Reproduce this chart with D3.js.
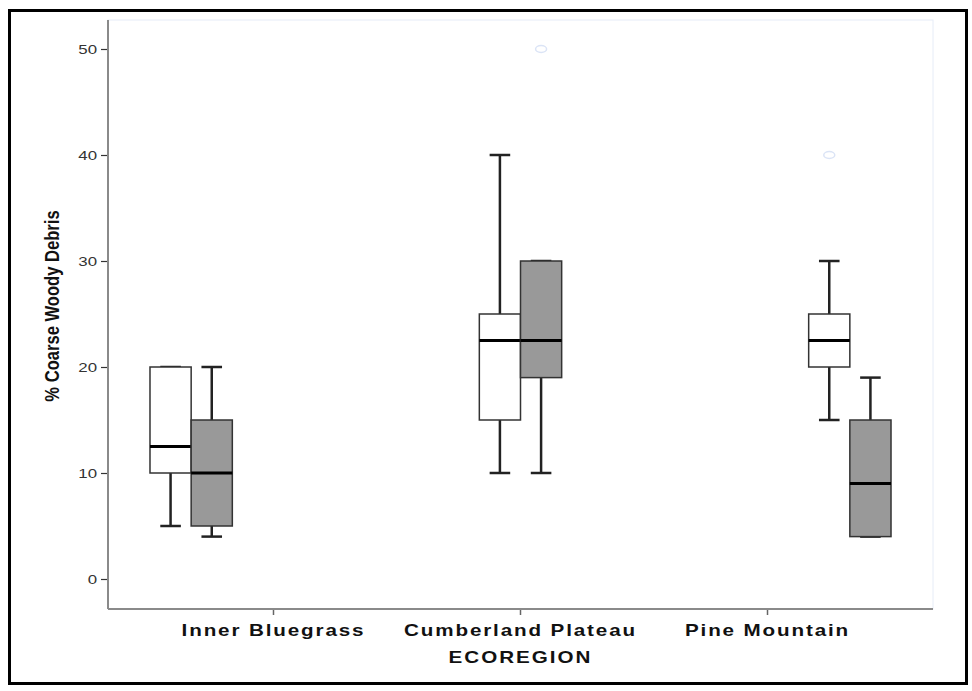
<!DOCTYPE html>
<html>
<head>
<meta charset="utf-8">
<script src="https://cdn.jsdelivr.net/npm/d3@7"></script>
<style>
  body { margin: 0; background: #fff; }
  text { font-family: "Liberation Sans", Arial, sans-serif; }
</style>
</head>
<body>
<div id="wrapper"></div>
<script>
// data
const regions = ["Inner Bluegrass", "Cumberland Plateau", "Pine Mountain"]
const slots = ["s1", "s2", "s3", "s4", "s5", "s6"]
const yTicks = [0, 10, 20, 30, 40, 50]

const boxRegion = ["Inner Bluegrass", "Inner Bluegrass", "Cumberland Plateau", "Cumberland Plateau", "Pine Mountain", "Pine Mountain"]
const boxSlot   = ["s1", "s2", "s3", "s4", "s5", "s6"]
const boxShade  = ["white", "gray", "white", "gray", "white", "gray"]
const whiskerLo = [5, 4, 10, 10, 15, 4]
const q1Values  = [10, 5, 15, 19, 20, 4]
const medians   = [12.5, 10, 22.5, 22.5, 22.5, 9]
const q3Values  = [20, 15, 25, 30, 25, 15]
const whiskerHi = [20, 20, 40, 30, 30, 19]
const outliers  = [[], [], [], [50], [40], []]

const boxes = boxRegion.map((r, i) => ({
  region: r, slot: boxSlot[i], shade: boxShade[i],
  lo: whiskerLo[i], q1: q1Values[i], med: medians[i],
  q3: q3Values[i], hi: whiskerHi[i], out: outliers[i]
}))

// dimensions
const dimensions = {
  width: 972,
  height: 691,
  margin: { top: 20, right: 39, bottom: 82, left: 108 }
}
dimensions.boundedWidth = dimensions.width - dimensions.margin.left - dimensions.margin.right
dimensions.boundedHeight = dimensions.height - dimensions.margin.top - dimensions.margin.bottom

const svg = d3.select("#wrapper").append("svg")
  .attr("width", dimensions.width)
  .attr("height", dimensions.height)

// outer frame
svg.append("rect")
  .attr("x", 9.5).attr("y", 10.5)
  .attr("width", 957).attr("height", 673)
  .attr("fill", "none")
  .attr("stroke", "#000")
  .attr("stroke-width", 3)

const bounds = svg.append("g")
  .attr("transform", `translate(${dimensions.margin.left},${dimensions.margin.top})`)

// scales
const yScale = d3.scaleLinear()
  .domain([0, 50])
  .range([559, 29])

const xScale = d3.scaleBand()
  .domain(regions)
  .range([0, dimensions.boundedWidth])
  .paddingInner(0)
  .paddingOuter(0.17)

const subScale = d3.scaleBand()
  .domain(slots)
  .range([0, xScale.bandwidth()])

// plot frame (light)
bounds.append("rect")
  .attr("x", 0).attr("y", 0)
  .attr("width", dimensions.boundedWidth)
  .attr("height", dimensions.boundedHeight)
  .attr("fill", "none")
  .attr("stroke", "#e6ecf7")
  .attr("stroke-width", 1)

// axes
const yAxisGenerator = d3.axisLeft(yScale)
  .tickValues(yTicks)
  .tickSize(7)
  .tickPadding(4)
const yAxis = bounds.append("g").call(yAxisGenerator)
yAxis.select(".domain").remove()
yAxis.selectAll(".tick line").attr("stroke", "#333").attr("stroke-width", 1.2)
yAxis.selectAll(".tick text")
  .attr("fill", "#333")
  .attr("transform", "translate(-11,0) scale(1.35,1) translate(11,0)")
  .style("font-size", "12.5px")

bounds.append("line")
  .attr("x1", 0).attr("x2", 0)
  .attr("y1", 0).attr("y2", dimensions.boundedHeight)
  .attr("stroke", "#8a8a8a").attr("stroke-width", 2)

const xAxisGenerator = d3.axisBottom(xScale)
  .tickSize(6)
  .tickPadding(9)
const xAxis = bounds.append("g")
  .attr("transform", `translate(0,${dimensions.boundedHeight})`)
  .call(xAxisGenerator)
xAxis.select(".domain").remove()
xAxis.selectAll(".tick line").attr("stroke", "#666").attr("stroke-width", 1.5)
xAxis.selectAll(".tick text")
  .attr("fill", "#111")
  .attr("transform", "scale(1.25,1)")
  .style("font-size", "16.5px")
  .style("font-weight", "bold")
  .style("letter-spacing", "1.5px")

bounds.append("line")
  .attr("x1", 0).attr("x2", dimensions.boundedWidth)
  .attr("y1", dimensions.boundedHeight).attr("y2", dimensions.boundedHeight)
  .attr("stroke", "#8a8a8a").attr("stroke-width", 2)

// axis titles
svg.append("text")
  .attr("transform", `translate(59,306) rotate(-90) scale(0.79,1)`)
  .attr("text-anchor", "middle")
  .style("font-size", "21px")
  .style("font-weight", "bold")
  .attr("fill", "#111")
  .text("% Coarse Woody Debris")

svg.append("text")
  .attr("transform", `translate(${dimensions.margin.left + xScale("Cumberland Plateau") + xScale.bandwidth() / 2},663) scale(1.25,1)`)
  .attr("text-anchor", "middle")
  .style("font-size", "16.5px")
  .style("font-weight", "bold")
  .style("letter-spacing", "1.6px")
  .attr("fill", "#111")
  .text("ECOREGION")

// boxes
const boxWidth = subScale.bandwidth()
const groups = bounds.selectAll(".box")
  .data(boxes)
  .enter().append("g")
    .attr("class", "box")
    .attr("transform", d => `translate(${xScale(d.region) + subScale(d.slot)},0)`)

groups.append("line")
  .attr("x1", boxWidth / 2).attr("x2", boxWidth / 2)
  .attr("y1", d => yScale(d.hi)).attr("y2", d => yScale(d.lo))
  .attr("stroke", "#222").attr("stroke-width", 2.5)

groups.append("line")
  .attr("x1", boxWidth / 4).attr("x2", boxWidth * 3 / 4)
  .attr("y1", d => yScale(d.hi)).attr("y2", d => yScale(d.hi))
  .attr("stroke", "#222").attr("stroke-width", 2.5)

groups.append("line")
  .attr("x1", boxWidth / 4).attr("x2", boxWidth * 3 / 4)
  .attr("y1", d => yScale(d.lo)).attr("y2", d => yScale(d.lo))
  .attr("stroke", "#222").attr("stroke-width", 2.5)

groups.append("rect")
  .attr("x", 0)
  .attr("width", boxWidth)
  .attr("y", d => yScale(d.q3))
  .attr("height", d => yScale(d.q1) - yScale(d.q3))
  .attr("fill", d => d.shade == "gray" ? "#999999" : "#ffffff")
  .attr("stroke", "#333").attr("stroke-width", 1.5)

groups.append("line")
  .attr("x1", 0).attr("x2", boxWidth)
  .attr("y1", d => yScale(d.med)).attr("y2", d => yScale(d.med))
  .attr("stroke", "#000").attr("stroke-width", 3)

groups.selectAll(".outlier")
  .data(d => d.out)
  .enter().append("ellipse")
    .attr("class", "outlier")
    .attr("cx", boxWidth / 2)
    .attr("cy", d => yScale(d))
    .attr("rx", 5.5).attr("ry", 3.5)
    .attr("fill", "none")
    .attr("stroke", "#dbe4f6")
    .attr("stroke-width", 1.5)
</script>
</body>
</html>
